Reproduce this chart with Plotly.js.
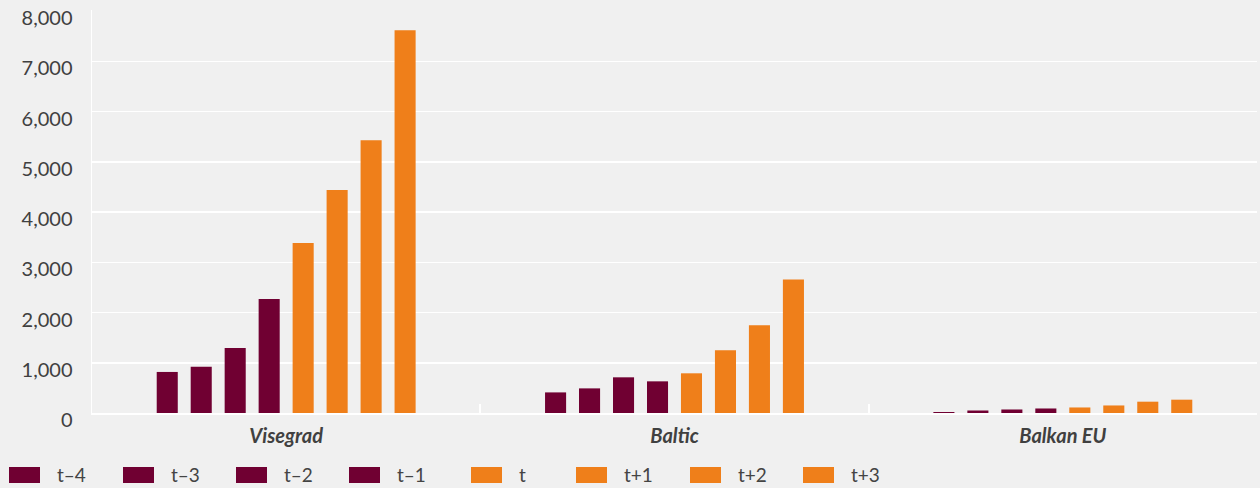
<!DOCTYPE html>
<html>
<head>
<meta charset="utf-8">
<script src="https://cdn.plot.ly/plotly-3.0.1.min.js"></script>
<style>html,body{margin:0;padding:0;background:#f0f0f0;}#chart{width:1260px;height:488px;}</style>
</head>
<body>
<div id="chart"></div>
<script>
// ---- data ----
const categories = ['Visegrad', 'Baltic', 'Balkan EU'];
const seriesNames = ['t\u20134', 't\u20133', 't\u20132', 't\u20131', 't', 't+1', 't+2', 't+3'];
const tMinus4 = [817, 410, 20];
const tMinus3 = [920, 490, 50];
const tMinus2 = [1295, 710, 70];
const tMinus1 = [2270, 630, 90];
const t0 = [3382, 790, 110];
const tPlus1 = [4436, 1247, 150];
const tPlus2 = [5430, 1744, 225];
const tPlus3 = [7618, 2658, 265];
const yTickVals = [0, 1000, 2000, 3000, 4000, 5000, 6000, 7000, 8000];
const yTickText = ['0', '1,000', '2,000', '3,000', '4,000', '5,000', '6,000', '7,000', '8,000'];

// ---- style ----
const MAROON = '#700032';
const ORANGE = '#ef7f1a';
const seriesValues = [tMinus4, tMinus3, tMinus2, tMinus1, t0, tPlus1, tPlus2, tPlus3];
const seriesColors = [MAROON, MAROON, MAROON, MAROON, ORANGE, ORANGE, ORANGE, ORANGE];

const W = 1260, H = 488;
const M = {l: 92, r: 3, t: 10, b: 75};
const plotW = W - M.l - M.r, plotH = H - M.t - M.b;
const pxToPaperX = px => (px - M.l) / plotW;
const pxToPaperY = py => (H - M.b - py) / plotH;

const traces = seriesValues.map((vals, i) => ({
  type: 'bar',
  name: seriesNames[i],
  x: categories,
  y: vals,
  marker: {color: seriesColors[i]},
  hoverinfo: 'x+y+name',
  showlegend: false
}));

// custom legend (larger swatches, like the reference)
const legendLeft = [9, 123, 236, 349, 471, 576, 690, 803];
const shapes = [], annotations = [];
seriesNames.forEach((nm, i) => {
  shapes.push({
    type: 'rect', xref: 'paper', yref: 'paper',
    x0: pxToPaperX(legendLeft[i]), x1: pxToPaperX(legendLeft[i] + 31),
    y0: pxToPaperY(483), y1: pxToPaperY(467),
    fillcolor: seriesColors[i], line: {width: 0}
  });
  annotations.push({
    xref: 'paper', yref: 'paper',
    x: pxToPaperX(legendLeft[i] + 46), y: pxToPaperY(475),
    xanchor: 'left', yanchor: 'middle', showarrow: false,
    text: nm, font: {family: 'Lato, sans-serif', size: 19, color: '#444444'}
  });
});

const layout = {
  width: W, height: H,
  margin: M,
  paper_bgcolor: '#f0f0f0',
  plot_bgcolor: '#f0f0f0',
  barmode: 'group',
  bargap: 0.3,
  bargroupgap: 0.38,
  showlegend: false,
  xaxis: {
    type: 'category',
    showgrid: false,
    showline: true, linecolor: '#ffffff', linewidth: 2,
    ticks: 'inside', tickson: 'boundaries', ticklen: 9, tickwidth: 2, tickcolor: '#ffffff',
    tickfont: {family: 'Lato, sans-serif', size: 20, color: '#404040', weight: 'bold', style: 'italic'},
    ticklabelstandoff: 4,
    fixedrange: true
  },
  yaxis: {
    range: [0, 8020],
    tickvals: yTickVals, ticktext: yTickText,
    showgrid: true, gridcolor: '#ffffff', gridwidth: 1.5,
    zeroline: false,
    showline: true, linecolor: '#ffffff', linewidth: 1.5,
    ticks: '',
    tickfont: {family: 'Lato, sans-serif', size: 20, color: '#404040'},
    ticklabelstandoff: 14,
    ticklabelshift: 7,
    fixedrange: true
  },
  shapes: shapes,
  annotations: annotations,
  font: {family: 'Lato, sans-serif', color: '#404040'}
};

Plotly.newPlot('chart', traces, layout, {displayModeBar: false, staticPlot: true});
</script>
</body>
</html>
